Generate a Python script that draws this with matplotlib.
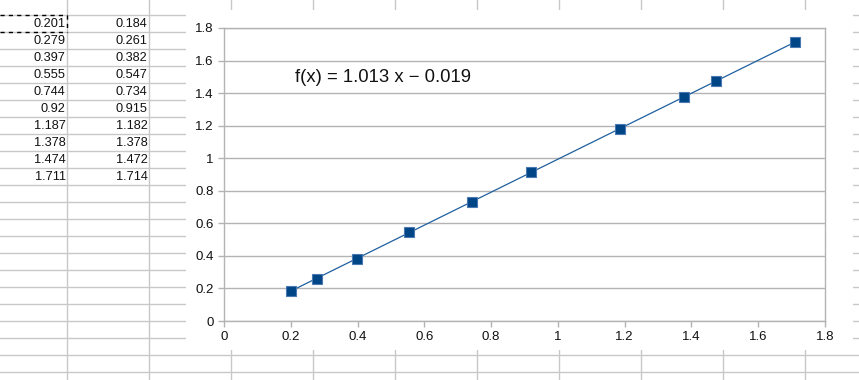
import matplotlib.pyplot as plt
import numpy as np
from matplotlib.patches import Rectangle

# spreadsheet columns A and B
x_vals = [0.201, 0.279, 0.397, 0.555, 0.744, 0.92, 1.187, 1.378, 1.474, 1.711]
y_vals = [0.184, 0.261, 0.382, 0.547, 0.734, 0.915, 1.182, 1.378, 1.472, 1.714]
x_text = ["0.201", "0.279", "0.397", "0.555", "0.744", "0.92", "1.187", "1.378", "1.474", "1.711"]
y_text = ["0.184", "0.261", "0.382", "0.547", "0.734", "0.915", "1.182", "1.378", "1.472", "1.714"]

# trendline shown on the chart
slope = 1.013
intercept = -0.019
eq_label = "f(x) = 1.013 x \u2212 0.019"

plt.rcParams['font.family'] = ['Liberation Sans', 'DejaVu Sans']

W, H = 859, 380
fig = plt.figure(figsize=(W / 100, H / 100), dpi=100)

# background sheet (pixel coordinates)
bg = fig.add_axes([0, 0, 1, 1])
bg.set_xlim(0, W)
bg.set_ylim(H, 0)
bg.axis('off')

grid_col = '#c8c8c8'
for k in range(10):
    bg.axvline(67.3 + 82 * k, color=grid_col, lw=1)
for k in range(22):
    bg.axhline(15.3 + 17 * k, color=grid_col, lw=1)

# cell values
for i in range(len(x_text)):
    yc = 15.3 + 17 * i + 8.8
    bg.text(65.5, yc, x_text[i], ha='right', va='center', fontsize=9.2, color='#111111')
    bg.text(147.5, yc, y_text[i], ha='right', va='center', fontsize=9.2, color='#111111')

# selection marquee around first cell
bg.plot([0, 67.3], [15.3, 15.3], color='black', lw=1, ls=(0, (3, 3)))
bg.plot([0, 67.3], [32.3, 32.3], color='black', lw=1, ls=(0, (3, 3)))
bg.plot([67.3, 67.3], [15.3, 32.3], color='black', lw=1, ls=(0, (3, 3)))

# chart area covers the grid
bg.add_patch(Rectangle((186, 10), 853 - 186, 350 - 10, facecolor='white', edgecolor='none', zorder=5))

# plot area
x0, x1, yt, yb = 224, 825, 28, 321
ax = fig.add_axes([x0 / W, 1 - yb / H, (x1 - x0) / W, (yb - yt) / H])
ax.set_xlim(0, 1.8)
ax.set_ylim(0, 1.8)
ticks = np.arange(0, 1.81, 0.2)
ax.set_xticks(ticks)
ax.set_yticks(ticks)
ax.set_xticklabels([f"{t:g}" for t in np.round(ticks, 1)])
ax.set_yticklabels([f"{t:g}" for t in np.round(ticks, 1)])

axis_col = '#b3b3b3'
for s in ax.spines.values():
    s.set_color(axis_col)
    s.set_linewidth(1)
ax.tick_params(axis='both', direction='out', length=4, width=1, color=axis_col,
               labelsize=9.5, labelcolor='#111111', pad=3.5)
ax.grid(axis='y', color=axis_col, lw=1)
ax.set_axisbelow(True)

xs = np.array([min(x_vals), max(x_vals)])
ax.plot(xs, slope * xs + intercept, color='#1f5fa0', lw=0.9, zorder=3)
ax.plot(x_vals, y_vals, ls='none', marker='s', markersize=7.2,
        markerfacecolor='#004586', markeredgecolor='#4a78b0', markeredgewidth=0.8, zorder=4)

ax.text(0.213, 1.468, eq_label, fontsize=13.3, color='#111111', va='baseline')

fig.savefig('out.png', dpi=100)
